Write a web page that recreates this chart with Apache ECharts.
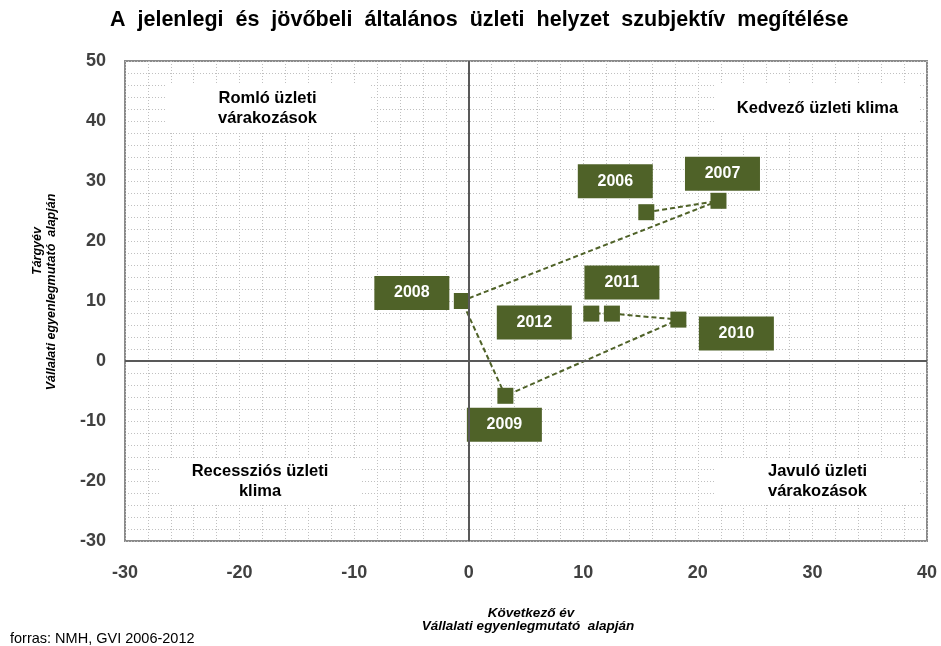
<!DOCTYPE html>
<html>
<head>
<meta charset="utf-8">
<script src="https://cdn.jsdelivr.net/npm/echarts@6/dist/echarts.min.js"></script>
<style>
  html, body { margin: 0; padding: 0; background: #fff; }
  #chart { width: 941px; height: 646px; }
</style>
</head>
<body>
<div id="chart"></div>
<script>
// adatok: következő év (x), tárgyév (y)
const years = ["2006", "2007", "2008", "2009", "2010", "2011", "2012"];
const nextYear = [15.5, 21.8, -0.6, 3.2, 18.3, 12.5, 10.7];
const currentYear = [24.8, 26.7, 10.0, -5.8, 6.9, 7.9, 7.9];
const xTicks = [-30, 40, 10];
const yTicks = [-30, 50, 10];

// címkék eltolása a pontokhoz képest (px)
const labelOffsets = [[-31, -31], [4, -27], [-50, -8], [-1, 29], [58, 14], [10, -31], [-57, 9]];

const green = "#4F6228";
const font = "Arial, 'Liberation Sans', sans-serif";
const gridLine = { show: true, lineStyle: { color: "#c0c0c0", type: [1, 2], width: 1 } };

const points = years.map((y, i) => ({
  value: [nextYear[i], currentYear[i]],
  name: y,
  label: { offset: labelOffsets[i] },
}));

const chart = echarts.init(document.getElementById("chart"));

function quadrant(x, y, w, h, text) {
  return [
    { type: "rect", left: x, top: y, shape: { width: w, height: h }, style: { fill: "#fff" }, z: 1 },
    {
      type: "text", x: x + w / 2, y: y + h / 2, z: 2,
      style: {
        text: text, fill: "#000", font: "bold 16.5px " + font,
        align: "center", verticalAlign: "middle", lineHeight: 20,
      },
    },
  ];
}

function note(x, y, text, style, extra) {
  return Object.assign({
    type: "text", x: x, y: y, z: 2,
    style: { text: text, fill: "#000", font: style, align: "center", verticalAlign: "middle" },
  }, extra || {});
}

const option = {
  animation: false,
  backgroundColor: "#fff",
  title: {
    text: "A  jelenlegi  és  jövőbeli  általános  üzleti  helyzet  szubjektív  megítélése",
    left: 110,
    top: 9,
    padding: 0,
    textStyle: { fontFamily: font, fontSize: 21.5, fontWeight: "bold", color: "#000" },
  },
  grid: {
    left: 125, right: 14, top: 61, bottom: 105,
    show: true, borderColor: "#8a8a8a", borderWidth: 2,
  },
  xAxis: {
    type: "value",
    min: xTicks[0], max: xTicks[1], interval: xTicks[2],
    axisLine: { show: false, onZero: false },
    axisTick: { show: false },
    axisLabel: { margin: 23, fontSize: 18, fontWeight: "bold", color: "#404040", fontFamily: font },
    splitLine: gridLine,
    minorTick: { show: false, splitNumber: 5 },
    minorSplitLine: gridLine,
  },
  yAxis: {
    type: "value",
    min: yTicks[0], max: yTicks[1], interval: yTicks[2],
    axisLine: { show: false, onZero: false },
    axisTick: { show: false },
    axisLabel: { margin: 19, fontSize: 18, fontWeight: "bold", color: "#404040", fontFamily: font },
    splitLine: gridLine,
    minorTick: { show: false, splitNumber: 5 },
    minorSplitLine: gridLine,
  },
  graphic: [
    ...quadrant(165, 85, 205, 46, "Romló üzleti\nvárakozások"),
    ...quadrant(715, 85, 205, 46, "Kedvező üzleti klima"),
    ...quadrant(160, 458, 200, 47, "Recessziós üzleti\nklima"),
    ...quadrant(715, 458, 205, 47, "Javuló üzleti\nvárakozások"),
    note(38, 251, "Tárgyév", "italic bold 12.5px " + font, { rotation: Math.PI / 2 }),
    note(52, 292, "Vállalati egyenlegmutató  alapján", "italic bold 12.5px " + font, { rotation: Math.PI / 2 }),
    note(531, 613, "Következő év", "italic bold 13.5px " + font),
    note(528, 626, "Vállalati egyenlegmutató  alapján", "italic bold 13.5px " + font),
    {
      type: "text", x: 10, y: 639, z: 2,
      style: { text: "forras: NMH, GVI 2006-2012", fill: "#000", font: "14.5px " + font, align: "left", verticalAlign: "middle" },
    },
  ],
  series: [
    {
      type: "line",
      data: points,
      symbol: "rect",
      symbolSize: 16,
      itemStyle: { color: green },
      lineStyle: { color: green, width: 2, type: [5, 3] },
      label: {
        show: true,
        position: "inside",
        formatter: "{b}",
        backgroundColor: green,
        color: "#fff",
        fontSize: 16,
        fontWeight: "bold",
        fontFamily: font,
        width: 75,
        height: 34,
        lineHeight: 34,
        align: "center",
        verticalAlign: "middle",
      },
      markLine: {
        silent: true,
        symbol: "none",
        label: { show: false },
        lineStyle: { type: "solid", color: "#595959", width: 2 },
        data: [{ xAxis: 0 }, { yAxis: 0 }],
      },
    },
  ],
};

chart.setOption(option);
</script>
</body>
</html>
